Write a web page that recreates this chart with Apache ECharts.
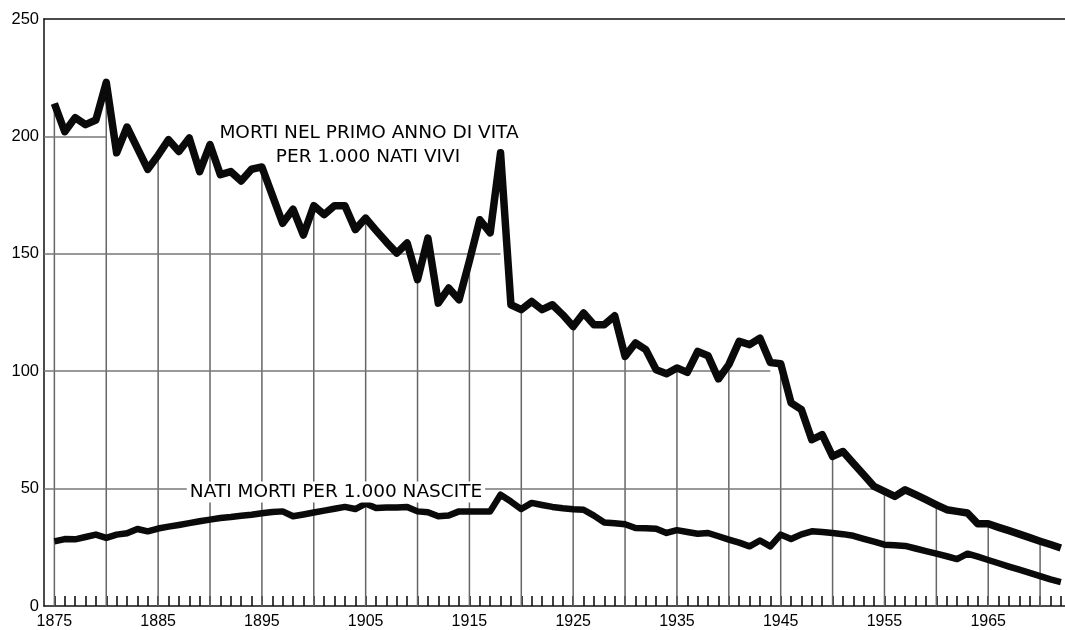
<!DOCTYPE html>
<html>
<head>
<meta charset="utf-8">
<script src="https://cdn.jsdelivr.net/npm/echarts@6/dist/echarts.min.js"></script>
<style>
  html, body { margin: 0; padding: 0; background: #fff; }
  #chart { width: 1065px; height: 630px; }
</style>
</head>
<body>
<div id="chart"></div>
<script>
// ---- DATA ----
const years = [
  1875,1876,1877,1878,1879,1880,1881,1882,1883,1884,
  1885,1886,1887,1888,1889,1890,1891,1892,1893,1894,
  1895,1896,1897,1898,1899,1900,1901,1902,1903,1904,
  1905,1906,1907,1908,1909,1910,1911,1912,1913,1914,
  1915,1916,1917,1918,1919,1920,1921,1922,1923,1924,
  1925,1926,1927,1928,1929,1930,1931,1932,1933,1934,
  1935,1936,1937,1938,1939,1940,1941,1942,1943,1944,
  1945,1946,1947,1948,1949,1950,1951,1952,1953,1954,
  1955,1956,1957,1958,1959,1960,1961,1962,1963,1964,
  1965,1966,1967,1968,1969,1970,1971,1972
];
// Morti nel primo anno di vita per 1.000 nati vivi
const infantDeaths = [
  214,202,208,205,207,223,193,204,195,186,
  192,198.6,193.6,199.3,185,196.5,183.7,185,181,186,
  187,175,163,169,158,170.5,166.7,170.5,170.5,160.3,
  165.2,160,155,150.3,154.6,139,156.7,129,135.4,130.4,
  147,164.5,158.9,193,128.3,126.2,129.7,126.2,128.3,124,
  119,124.8,119.8,119.8,123.6,106.3,112,109.2,100.6,98.9,
  101.4,99.5,108.4,106.6,96.7,102.8,112.7,111.3,114.1,103.7,
  103.2,86.5,83.6,70.8,73,63.7,65.8,60.8,55.9,50.9,
  48.8,46.7,49.5,47.4,45.3,43.1,41,40.3,39.6,35,
  35,33.5,32.1,30.6,29.1,27.6,26.2,24.7
];
// Nati morti per 1.000 nascite
const stillBirths = [
  27.5,28.5,28.4,29.4,30.4,29.0,30.4,31.0,32.8,31.8,
  33.0,33.8,34.5,35.3,36.1,36.8,37.5,37.9,38.4,38.9,
  39.5,40.0,40.3,38.2,39.0,39.8,40.6,41.4,42.2,41.3,
  43.6,41.7,41.9,42.0,42.2,40.3,39.9,38.2,38.5,40.3,
  40.3,40.3,40.3,47.4,44.5,41.3,43.9,43.0,42.2,41.6,
  41.2,41.0,38.5,35.6,35.2,34.8,33.2,33.1,32.9,31.1,
  32.3,31.5,30.8,31.1,29.7,28.3,27.0,25.4,27.9,25.4,
  30.4,28.5,30.5,31.8,31.5,31.1,30.6,29.9,28.6,27.4,
  26.1,25.9,25.6,24.5,23.4,22.3,21.2,20.0,22.3,21.0,
  19.6,18.2,16.8,15.5,14.1,12.7,11.3,10.2
];
// Partial horizontal reference lines (value, last year reached)
const refLineValues = [50, 100, 150, 200];
const refLineEndYears = [1954, 1944, 1918, 1880];
const yTicks = [0, 50, 100, 150, 200, 250];

// ---- BUILD ----
const infantPairs = years.map((y, i) => [y, infantDeaths[i]]);
const stillPairs = years.map((y, i) => [y, stillBirths[i]]);
const dropLines = years.map((y, i) => [y, infantDeaths[i]]).filter(p => p[0] % 5 === 0);
const refLines = refLineValues.map((v, i) => [
  { coord: [1874, v] }, { coord: [refLineEndYears[i], v] }
]);

const FONT = 'Liberation Sans';
const ANN_FONT = '18.5px "DejaVu Sans"';
const chart = echarts.init(document.getElementById('chart'), null, { renderer: 'canvas' });
chart.setOption({
  animation: false,
  backgroundColor: '#ffffff',
  grid: { left: 44, right: 0, top: 19, bottom: 24, containLabel: false },
  xAxis: [{
    type: 'value', min: 1874, max: 1972.4, interval: 1,
    axisLine: { show: true, lineStyle: { color: '#111', width: 1.5 } },
    axisTick: { show: true, inside: true, length: 10, lineStyle: { color: '#111', width: 1.6 } },
    splitLine: { show: false },
    axisLabel: {
      showMaxLabel: false, showMinLabel: false,
      fontFamily: FONT, fontSize: 16, color: '#000', margin: 8,
      formatter: v => ((Math.round(v) - 1875) % 10 === 0 && Math.abs(v - Math.round(v)) < 1e-6) ? String(Math.round(v)) : ''
    }
  }, {
    type: 'value', position: 'top', min: 1874, max: 1972.4,
    axisLine: { show: true, lineStyle: { color: '#111', width: 1.5 } },
    axisTick: { show: false }, axisLabel: { show: false }, splitLine: { show: false }
  }],
  yAxis: {
    type: 'value', min: 0, max: 250, interval: 50,
    axisLine: { show: true, lineStyle: { color: '#111', width: 1.5 } },
    axisTick: { show: false },
    splitLine: { show: false },
    axisLabel: {
      fontFamily: FONT, fontSize: 16.5, color: '#000', margin: 5,
      formatter: v => yTicks.includes(v) ? String(v) : ''
    }
  },
  graphic: [
    { type: 'text', x: 369, y: 133, z: 100,
      style: { text: 'MORTI NEL PRIMO ANNO DI VITA', font: ANN_FONT, fill: '#000', align: 'center', verticalAlign: 'middle' } },
    { type: 'text', x: 368, y: 157, z: 100,
      style: { text: 'PER 1.000 NATI VIVI', font: ANN_FONT, fill: '#000', align: 'center', verticalAlign: 'middle' } },
    { type: 'text', x: 336, y: 492, z: 100,
      style: { text: 'NATI MORTI PER 1.000 NASCITE', font: ANN_FONT, fill: '#000', align: 'center', verticalAlign: 'middle',
               backgroundColor: '#fff', padding: [1, 3] } }
  ],
  series: [
    {
      name: 'drop', type: 'bar', data: dropLines, barWidth: 1.5, z: 1,
      itemStyle: { color: '#666' }, silent: true,
      markLine: {
        silent: true, symbol: ['none', 'none'], label: { show: false },
        lineStyle: { color: '#777', width: 1.5, type: 'solid' },
        data: refLines
      }
    },
    {
      name: 'Morti nel primo anno di vita per 1.000 nati vivi', type: 'line', data: infantPairs, z: 5,
      showSymbol: false, symbol: 'none',
      lineStyle: { color: '#0a0a0a', width: 7.5, join: 'round', cap: 'butt' }
    },
    {
      name: 'Nati morti per 1.000 nascite', type: 'line', data: stillPairs, z: 5,
      showSymbol: false, symbol: 'none',
      lineStyle: { color: '#0a0a0a', width: 6.5, join: 'round', cap: 'butt' }
    }
  ]
});
</script>
</body>
</html>
